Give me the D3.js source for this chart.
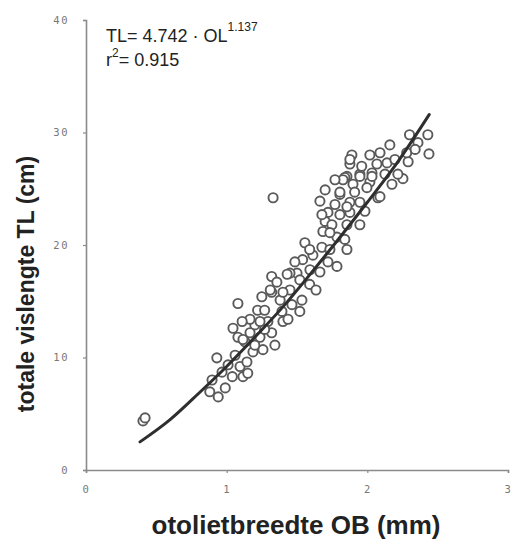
<!DOCTYPE html>
<html><head><meta charset="utf-8">
<script src="https://cdn.jsdelivr.net/npm/d3@7"></script>
<style>
html,body{margin:0;padding:0;background:#fff;}
svg{display:block;}
</style></head>
<body>
<script>
// ---- data ----
const xTicks = [0, 1, 2, 3];
const yTicks = [0, 10, 20, 30, 40];
const xTitle = "otolietbreedte OB (mm)";
const yTitle = "totale vislengte TL (cm)";
const formulaMain = "TL= 4.742 · OL";
const formulaExp = "1.137";
const r2Label = "= 0.915";
// observations: otolith width OB (mm)
const obValues = [0.405,0.42,0.93,1.08,1.045,1.33,1.556,2.253,2.438,2.43,2.30,0.88,0.94,0.99,1.04,1.095,1.144,1.116,1.15,1.08,1.13,1.32,1.357,1.50,1.54,1.25,1.22,1.32,1.38,1.45,1.535,1.116,1.20,1.237,1.32,1.343,1.258,1.187,1.40,1.293,1.393,1.166,1.663,1.805,1.855,1.947,2.018,2.033,1.77,1.876,1.72,1.70,1.805,1.876,1.983,1.684,1.748,1.855,1.855,1.784,1.677,1.613,1.784,1.663,1.592,1.45,2.16,2.018,1.89,2.09,1.96,2.068,2.14,1.84,1.947,2.033,1.876,1.805,1.898,1.997,2.075,1.947,1.855,2.36,2.29,2.28,1.59,1.52,1.40,1.31,1.677,1.734,1.827,1.876,2.09,1.20,1.27,1.464,1.52,1.635,1.72,1.84,1.947,2.175,2.217,1.06,1.01,1.237,1.43,1.485,1.59,1.734,1.91,2.125,2.196,2.34,1.77,1.70,1.27,1.166,1.11,1.436,0.967,0.896];
// observations: total length TL (cm)
const tlValues = [4.36,4.63,9.97,14.8,12.6,24.2,20.2,25.9,28.1,29.8,29.8,6.95,6.5,7.3,8.3,9.2,9.6,8.3,8.6,11.8,11.4,17.2,16.7,17.5,18.7,15.4,14.2,15.8,15.1,16.0,15.1,11.6,12.9,11.8,12.2,11.1,10.7,10.5,13.2,13.2,14.1,12.2,23.9,24.5,26.1,26.3,25.6,26.4,23.6,23.8,22.9,22.1,22.7,22.9,23.0,21.2,21.8,21.8,19.6,20.7,19.8,19.1,18.1,17.6,17.8,17.5,28.9,28.0,28.0,28.2,27.0,27.2,27.3,26.0,26.1,26.1,27.2,24.7,25.4,25.1,24.2,23.8,23.4,29.1,27.4,28.2,16.5,16.9,15.8,16.0,22.7,21.1,25.8,27.6,24.3,11.1,12.5,14.7,14.1,16.0,18.5,20.5,21.8,25.4,26.3,10.2,9.35,13.2,17.4,18.5,19.6,19.6,24.7,26.3,27.6,28.5,25.8,24.9,14.2,13.4,13.2,13.4,8.7,8.0];
// fitted curve
const fitOB = [0.384,0.6,0.8,1.0,1.2,1.4,1.6,1.8,2.0,2.2,2.44];
const fitTL = [2.5,4.5,6.8,9.2,11.8,14.5,17.5,20.6,23.8,27.1,31.6];

// ---- chart ----
const W = 516, H = 547;
const svg = d3.select("body").append("svg").attr("width", W).attr("height", H);
const defs = svg.append("defs");
defs.append("filter").attr("id", "soft").attr("x", "-10%").attr("y", "-10%").attr("width", "120%").attr("height", "120%")
  .append("feGaussianBlur").attr("stdDeviation", 0.55);
const g = svg.append("g");

const x = d3.scaleLinear().domain([0, 3]).range([86, 508]);
const y = d3.scaleLinear().domain([0, 40]).range([470, 20]);

const axisColor = "#8a8a8a";
const tickFont = "'DejaVu Sans Mono', monospace";

// x axis
const xAxis = g.append("g").attr("transform", `translate(0,${y(0)})`)
  .call(d3.axisBottom(x).tickValues(xTicks).tickSize(3).tickPadding(13).tickFormat(d3.format("d")));
// y axis
const yAxis = g.append("g").attr("transform", `translate(${x(0)},0)`)
  .call(d3.axisLeft(y).tickValues(yTicks).tickSize(3).tickPadding(14).tickFormat(d3.format("d")));
[xAxis, yAxis].forEach(a => {
  a.select(".domain").attr("stroke", axisColor).attr("stroke-width", 1.6);
  a.selectAll(".tick line").attr("stroke", axisColor).attr("stroke-width", 1.2);
  a.selectAll(".tick text").attr("fill", "#777").style("font-family", tickFont)
    .style("font-size", "10.5px").style("letter-spacing", "1.5px");
});

// points
const pts = obValues.map((v, i) => ({ob: v, tl: tlValues[i]}));
g.append("g").attr("filter", "url(#soft)").selectAll("circle").data(pts).join("circle")
  .attr("cx", d => x(d.ob)).attr("cy", d => y(d.tl)).attr("r", 4.6)
  .attr("fill", "#fff").attr("stroke", "#5a5a5a").attr("stroke-width", 1.9);

// fitted curve
const fit = fitOB.map((v, i) => [v, fitTL[i]]);
g.append("path").datum(fit).attr("filter", "url(#soft)")
  .attr("d", d3.line().x(d => x(d[0])).y(d => y(d[1])).curve(d3.curveMonotoneX))
  .attr("fill", "none").attr("stroke", "#2e2e2e").attr("stroke-width", 3).attr("stroke-linecap", "round");

// formula text
const ff = "'Liberation Sans', Arial, sans-serif";
const t1 = g.append("text").attr("x", 106).attr("y", 42).attr("fill", "#222")
  .style("font-family", ff).style("font-size", "18px");
t1.append("tspan").text(formulaMain);
t1.append("tspan").attr("dy", -11).style("font-size", "12px").text(formulaExp);
const t2 = g.append("text").attr("x", 106).attr("y", 66).attr("fill", "#222")
  .style("font-family", ff).style("font-size", "18px");
t2.append("tspan").text("r");
t2.append("tspan").attr("dy", -9).style("font-size", "12px").text("2");
t2.append("tspan").attr("dy", 9).text(r2Label);

// axis titles
g.append("text").attr("x", 296).attr("y", 534).attr("text-anchor", "middle")
  .attr("fill", "#222").style("font-family", ff).style("font-weight", "bold").style("font-size", "26px")
  .text(xTitle);
g.append("text").attr("transform", "translate(34,284) rotate(-90)").attr("text-anchor", "middle")
  .attr("fill", "#222").style("font-family", ff).style("font-weight", "bold").style("font-size", "23px")
  .text(yTitle);
</script>
</body></html>
